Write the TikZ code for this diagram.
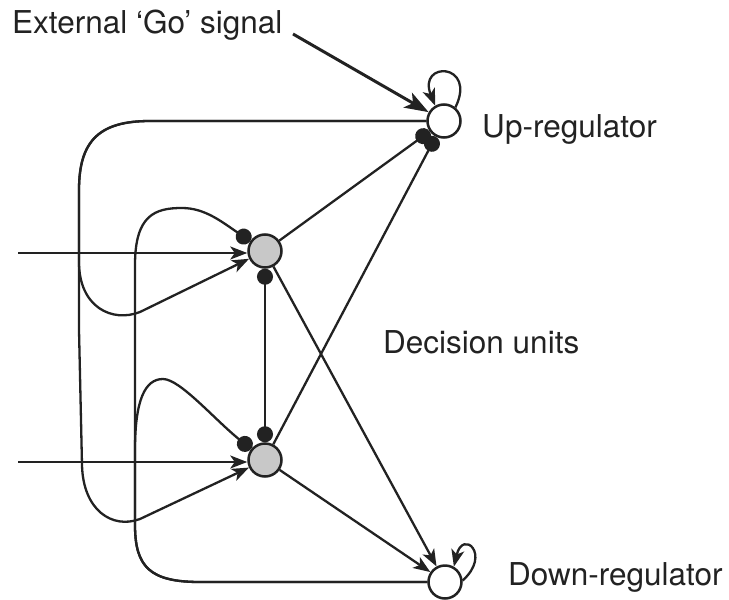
\documentclass[tikz,border=0pt]{standalone}
\usepackage{fontspec}
\setmainfont{TeX Gyre Heros}
\usetikzlibrary{arrows.meta}
\definecolor{inkc}{HTML}{222222}
\definecolor{unitgray}{HTML}{C8C8C8}
\begin{document}
\begin{tikzpicture}[x=1pt,y=-1pt,
  ink/.style={draw=inkc, line width=2.3pt},
  unit/.style={circle, draw=inkc, line width=2.5pt, minimum size=33pt, inner sep=0pt},
  decision/.style={unit, fill=unitgray},
  regulator/.style={unit, fill=white},
  excite/.style={ink, -{Stealth[length=17pt,width=13pt,inset=4.5pt]}},
  inhibit/.style={ink, -{Circle[length=16pt]}},
  mutual/.style={ink, {Circle[length=16pt]}-{Circle[length=16pt]}},
  gosig/.style={draw=inkc, line width=3pt, -{Stealth[length=24pt,width=17pt,inset=6pt]}},
  lbl/.style={text=inkc, font=\fontsize{31.5}{36}\selectfont, inner sep=0pt}
]
\useasboundingbox (0,0) rectangle (729,600);

% units
\node[regulator] (U) at (444,121) {};
\node[regulator] (D) at (445,582) {};
\node[decision] (A) at (265,251) {};
\node[decision] (B) at (265,460) {};

% labels
\node[lbl, anchor=base west] (goL) at (12,33) {External ‘Go’ signal};
\node[lbl, anchor=base west] (upL) at (482,137) {Up-regulator};
\node[lbl, anchor=base west] (downL) at (508,585) {Down-regulator};
\node[lbl, anchor=base west] (decL) at (383,353) {Decision units};

% free ends
\coordinate (goTail) at (293,34);
\coordinate (inA) at (18,253);
\coordinate (inB) at (18,462);

% external signal and self-excitation
\draw[gosig] (goTail) -- (U);
\draw[excite] (U.50) .. controls +(22,-45) and +(-18,-45) .. (U.120);
\draw[excite] (D.5) .. controls +(29,-26) and +(9,-38) .. (D.60);

% inputs to the decision units
\draw[excite] (inA) -- (inA -| A.west);
\draw[excite] (inB) -- (inB -| B.west);

% up-regulator feedback to both decision units
\draw[excite] (U.west) -- (150,121) .. controls (100,121) and (79,140) .. (79,190)
  -- (79,262) .. controls (79,307) and (112,323) .. (140,312) -- (A);
\draw[excite] (U.west) -- (150,121) .. controls (100,121) and (79,140) .. (79,190)
  -- (79,330) -- (82,465) .. controls (83,510) and (112,529.5) .. (140,519) -- (B);

% down-regulator feedback to both decision units
\draw[inhibit] (D.west) -- (200,582) .. controls (150,582) and (135,567) .. (135,525)
  -- (135,265) .. controls (135,215) and (155,208) .. (182,208)
  .. controls (205,208) and (222,222) .. (A);
\draw[inhibit] (D.west) -- (200,582) .. controls (150,582) and (135,567) .. (135,525)
  -- (135,450) .. controls (135,400) and (145,379) .. (163,379)
  .. controls (180,379) and (215,420) .. (B);

% decision units to regulators
\draw[inhibit] (A) -- (U);
\draw[inhibit] (B) -- (U);
\draw[excite] (A) -- (D);
\draw[excite] (B) -- (D);

% mutual inhibition
\draw[mutual] (A) -- (B);
\end{tikzpicture}
\end{document}
